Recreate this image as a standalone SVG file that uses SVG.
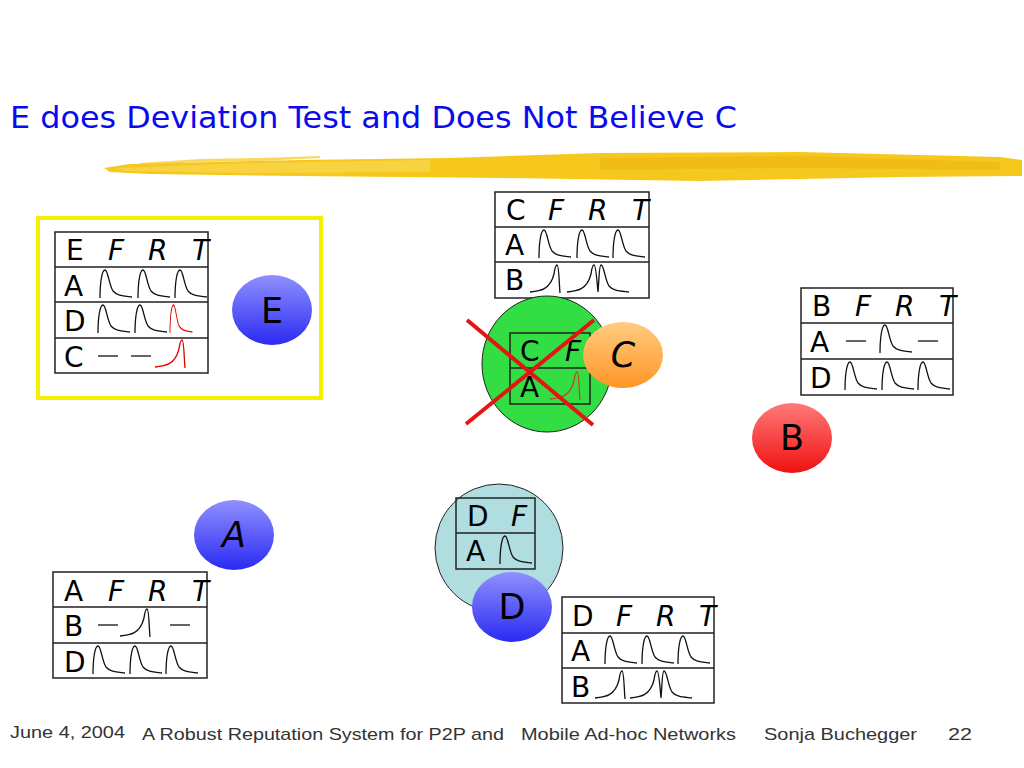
<svg xmlns="http://www.w3.org/2000/svg" width="1024" height="768" viewBox="0 0 1024 768">
<defs>
<style>
.tb{fill:none;stroke:#222;stroke-width:1.5}
.tt{font-family:"DejaVu Sans",Verdana,sans-serif;font-size:28px;fill:#000}
.it{font-style:italic}
.cv{fill:none;stroke:#111;stroke-width:1.3}
.rd{stroke:#e00000}
.br{stroke:#b8501a}
.nl{font-family:"DejaVu Sans",sans-serif;font-size:35px;fill:#000;text-anchor:middle}
.ft{font-family:"Liberation Sans",Arial,sans-serif;font-size:17px;fill:#333}
</style>
<linearGradient id="gb" x1="0" y1="0" x2="0" y2="1"><stop offset="0" stop-color="#9090ff"/><stop offset="1" stop-color="#2a2af2"/></linearGradient>
<linearGradient id="gr" x1="0" y1="0" x2="0" y2="1"><stop offset="0" stop-color="#ff7a7a"/><stop offset="1" stop-color="#f01010"/></linearGradient>
<linearGradient id="go" x1="0" y1="0" x2="0" y2="1"><stop offset="0" stop-color="#ffcc80"/><stop offset="1" stop-color="#ff9526"/></linearGradient>
<path id="pk" d="M0,31 C0,15 2,3 5,3 C8,3 9,18 13,24 C17,29 24,29 32,30"/>
<path id="rp" d="M0,30 C10,29 20,28 24,12 C25,5 26,3 27,3 C29,3 29,20 30,31"/>
<path id="db" d="M0,30 C10,29 20,28 24,12 C25,5 26,3 27,3 C29,3 30,20 31,30 C32,20 32,3 34,3 C37,3 38,18 42,24 C46,29 54,29 62,30"/>
<path id="dash" d="M0,0 H20"/>
</defs>
<rect width="1024" height="768" fill="#fff"/>

<text x="10" y="128" font-family="'DejaVu Sans',sans-serif" font-size="31" fill="#0a0aee" textLength="727" lengthAdjust="spacingAndGlyphs">E does Deviation Test and Does Not Believe C</text>

<g id="brush">
<polygon points="104,168 130,164 300,160 450,158 600,153 800,152 1000,157 1022,160 1022,176 900,177 700,181 500,178 300,176 150,174 110,172" fill="#f6c81e"/>
<polygon points="115,168 250,163 430,160 430,172 250,173 125,171" fill="#f9d64a" opacity="0.8"/>
<polygon points="600,158 800,156 1000,162 1000,170 800,168 600,170" fill="#eeb410" opacity="0.6"/>
<polygon points="140,163 200,159 260,158 320,156 320,158 260,161 200,162 140,165" fill="#f6c81e" opacity="0.7"/>
</g>

<g id="nodeE">
<rect x="38" y="218" width="283" height="180" fill="none" stroke="#f2f200" stroke-width="4"/>
<rect class="tb" x="55" y="232" width="153" height="141"/>
<path class="tb" d="M55,267H208M55,302H208M55,338H208"/>
<text class="tt" x="66" y="260">E</text>
<text class="tt it" x="108" y="260">F</text><text class="tt it" x="148" y="260">R</text><text class="tt it" x="192" y="260">T</text>
<text class="tt" x="64" y="296">A</text><text class="tt" x="64" y="331">D</text><text class="tt" x="64" y="367">C</text>
<use href="#pk" class="cv" x="100" y="267"/><use href="#pk" class="cv" x="138" y="267"/><use href="#pk" class="cv" x="175" y="267"/>
<use href="#pk" class="cv" x="98" y="302"/><use href="#pk" class="cv" x="135" y="302"/><use href="#pk" class="cv rd" x="170" y="302" transform="translate(170 302) scale(0.7 1) translate(-170 -302)"/>
<use href="#dash" class="cv" x="98" y="356"/><use href="#dash" class="cv" x="131" y="356"/>
<use href="#rp" class="cv rd" x="155" y="337"/>
<ellipse cx="272" cy="310" rx="40" ry="35" fill="url(#gb)"/>
<text class="nl" x="272" y="323">E</text>
</g>

<g id="nodeC">
<rect class="tb" x="495" y="192" width="154" height="106" fill="#fff"/>
<path class="tb" d="M495,227H649M495,262H649"/>
<text class="tt" x="506" y="220">C</text>
<text class="tt it" x="548" y="220">F</text><text class="tt it" x="588" y="220">R</text><text class="tt it" x="632" y="220">T</text>
<text class="tt" x="505" y="255">A</text><text class="tt" x="505" y="290">B</text>
<use href="#pk" class="cv" x="539" y="227"/><use href="#pk" class="cv" x="577" y="227"/><use href="#pk" class="cv" x="613" y="227"/>
<use href="#rp" class="cv" x="530" y="262"/><use href="#db" class="cv" x="567" y="262"/>
<ellipse cx="547" cy="364" rx="65" ry="68" fill="#33dd44" stroke="#222" stroke-width="1"/>
<rect class="tb" x="510" y="333" width="80" height="71"/>
<path class="tb" d="M510,368H590"/>
<text class="tt" x="520" y="361">C</text><text class="tt it" x="565" y="361">F</text>
<text class="tt" x="520" y="397">A</text>
<use href="#rp" class="cv br" x="550" y="369"/>
<ellipse cx="623" cy="355" rx="40" ry="33" fill="url(#go)"/>
<text class="nl it" x="623" y="367">C</text>
<path d="M467,320L593,425M594,320L466,424" stroke="#e51515" stroke-width="4" fill="none"/>
</g>

<g id="nodeB">
<rect class="tb" x="801" y="288" width="152" height="107"/>
<path class="tb" d="M801,323H953M801,359H953"/>
<text class="tt" x="812" y="316">B</text>
<text class="tt it" x="855" y="316">F</text><text class="tt it" x="895" y="316">R</text><text class="tt it" x="939" y="316">T</text>
<text class="tt" x="810" y="352">A</text><text class="tt" x="810" y="388">D</text>
<use href="#dash" class="cv" x="846" y="341"/><use href="#pk" class="cv" x="880" y="322"/><use href="#dash" class="cv" x="918" y="341"/>
<use href="#pk" class="cv" x="845" y="359"/><use href="#pk" class="cv" x="882" y="359"/><use href="#pk" class="cv" x="918" y="359"/>
<ellipse cx="792" cy="438" rx="40" ry="35" fill="url(#gr)"/>
<text class="nl" x="792" y="450">B</text>
</g>

<g id="nodeA">
<rect class="tb" x="53" y="572" width="154" height="106"/>
<path class="tb" d="M53,607H207M53,643H207"/>
<text class="tt" x="64" y="601">A</text>
<text class="tt it" x="108" y="601">F</text><text class="tt it" x="148" y="601">R</text><text class="tt it" x="192" y="601">T</text>
<text class="tt" x="64" y="636">B</text><text class="tt" x="64" y="672">D</text>
<use href="#dash" class="cv" x="98" y="625"/><use href="#rp" class="cv" x="120" y="606"/><use href="#dash" class="cv" x="170" y="625"/>
<use href="#pk" class="cv" x="93" y="643"/><use href="#pk" class="cv" x="130" y="643"/><use href="#pk" class="cv" x="166" y="643"/>
<ellipse cx="234" cy="535" rx="40" ry="35" fill="url(#gb)"/>
<text class="nl it" x="234" y="547">A</text>
</g>

<g id="nodeD">
<ellipse cx="499" cy="548" rx="64" ry="64" fill="#b0dde0" stroke="#222" stroke-width="1"/>
<rect class="tb" x="456" y="498" width="79" height="71"/>
<path class="tb" d="M456,533H535"/>
<text class="tt" x="467" y="526">D</text><text class="tt it" x="511" y="526">F</text>
<text class="tt" x="466" y="561">A</text>
<use href="#pk" class="cv" x="500" y="533"/>
<ellipse cx="512" cy="607" rx="40" ry="35" fill="url(#gb)"/>
<text class="nl" x="512" y="619">D</text>
<rect class="tb" x="562" y="597" width="152" height="106"/>
<path class="tb" d="M562,633H714M562,668H714"/>
<text class="tt" x="572" y="626">D</text>
<text class="tt it" x="616" y="626">F</text><text class="tt it" x="656" y="626">R</text><text class="tt it" x="699" y="626">T</text>
<text class="tt" x="571" y="661">A</text><text class="tt" x="571" y="697">B</text>
<use href="#pk" class="cv" x="605" y="633"/><use href="#pk" class="cv" x="642" y="633"/><use href="#pk" class="cv" x="678" y="633"/>
<use href="#rp" class="cv" x="595" y="668"/><use href="#db" class="cv" x="630" y="668"/>
</g>

<g id="footer">
<text class="ft" x="10" y="738" textLength="115" lengthAdjust="spacingAndGlyphs">June 4, 2004</text>
<text class="ft" x="142" y="740" textLength="362" lengthAdjust="spacingAndGlyphs">A Robust Reputation System for P2P and</text>
<text class="ft" x="521" y="740" textLength="215" lengthAdjust="spacingAndGlyphs">Mobile Ad-hoc Networks</text>
<text class="ft" x="764" y="740" textLength="153" lengthAdjust="spacingAndGlyphs">Sonja Buchegger</text>
<text class="ft" x="948" y="740" textLength="24" lengthAdjust="spacingAndGlyphs">22</text>
</g>
</svg>
